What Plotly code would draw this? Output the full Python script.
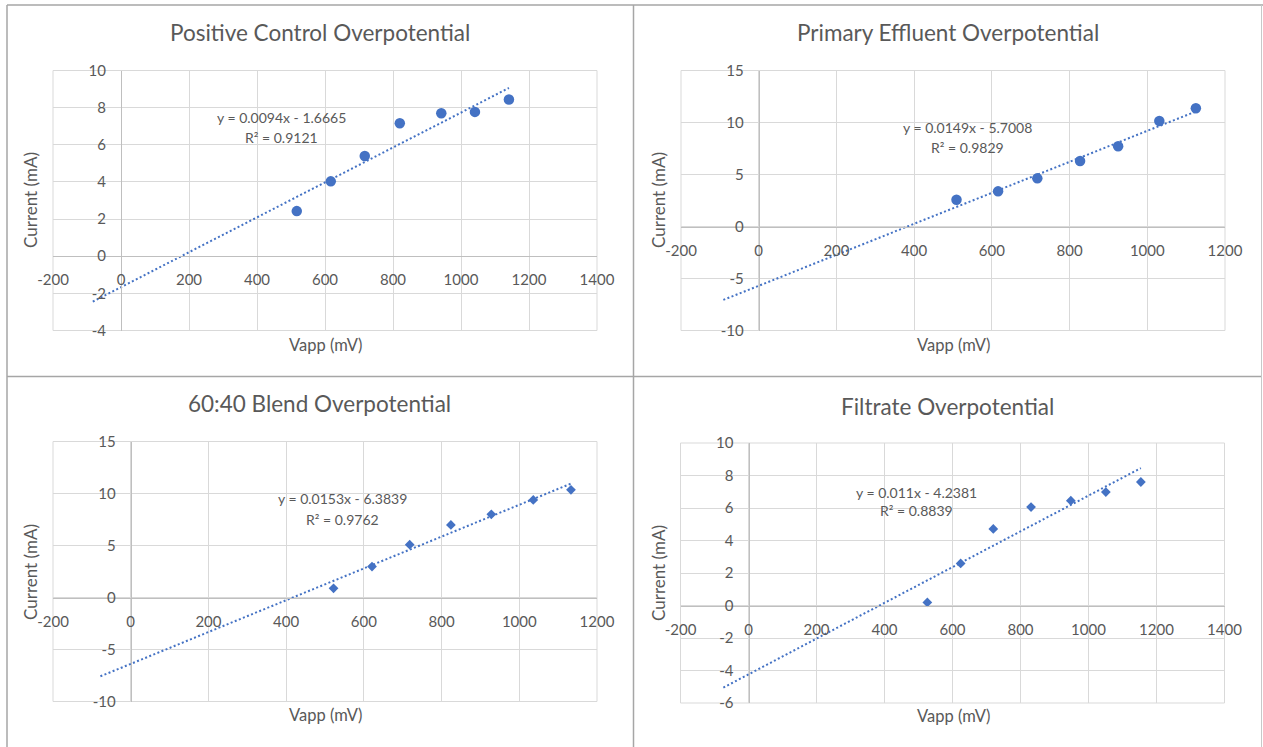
import numpy as np
import plotly.graph_objects as go

W, H = 1263, 747

# ---------------- data ----------------
titles = ["Positive Control Overpotential", "Primary Effluent Overpotential",
          "60:40 Blend Overpotential", "Filtrate Overpotential"]

pc_x = [517, 617, 717, 820, 942, 1041, 1141]
pc_y = [2.43, 4.03, 5.40, 7.16, 7.70, 7.77, 8.44]

pe_x = [509, 616, 717, 827, 925, 1031, 1125]
pe_y = [2.58, 3.38, 4.63, 6.30, 7.72, 10.15, 11.37]

bl_x = [522, 621, 718, 824, 928, 1036, 1133]
bl_y = [0.88, 2.97, 5.08, 6.98, 8.00, 9.38, 10.35]

fi_x = [526, 624, 720, 831, 948, 1051, 1154]
fi_y = [0.19, 2.59, 4.71, 6.06, 6.45, 6.98, 7.60]

slopes = [0.0094, 0.0149, 0.0153, 0.011]
intercepts = [-1.6665, -5.7008, -6.3839, -4.2381]
eq_labels = ["y = 0.0094x - 1.6665", "y = 0.0149x - 5.7008",
             "y = 0.0153x - 6.3839", "y = 0.011x - 4.2381"]
r2_labels = ["R² = 0.9121", "R² = 0.9829", "R² = 0.9762", "R² = 0.8839"]
backward_forecast = 600

x_ranges = [[-200, 1400], [-200, 1200], [-200, 1200], [-200, 1400]]
y_ranges = [[-4, 10], [-10, 15], [-10, 15], [-6, 10]]
x_dticks = [200, 200, 200, 200]
y_dticks = [2, 5, 5, 2]

xs = [pc_x, pe_x, bl_x, fi_x]
ys = [pc_y, pe_y, bl_y, fi_y]

# ---------------- style / layout ----------------
symbols = ["circle", "circle", "diamond", "diamond"]
msizes = [10.5, 10.5, 7.5, 7.5]
BLUE = "#4472C4"
TXT = "#595959"
GRID = "#D9D9D9"
AXL = "#BFBFBF"
FONT = "Lato"

# plot-area boxes in pixels: left, right, top, bottom
boxes = [(53, 597, 70.5, 330.5), (681, 1225, 70.5, 330.5),
         (53, 597, 441.5, 701.5), (680.5, 1224.5, 443, 703)]
title_pos = [(320, 33), (948, 33), (320, 404), (948, 406)]
xtitle_pos = [(325, 345), (953, 345), (325, 715), (953, 716)]
ytitle_pos = [(30, 200), (658, 200), (30, 572), (658, 573)]
eq_pos = [(281, 118, 138), (967, 127, 147), (342, 498, 519), (916, 492, 511)]

fig = go.Figure()
layout = dict(width=W, height=H, margin=dict(l=0, r=0, t=0, b=0),
              paper_bgcolor="white", plot_bgcolor="white", showlegend=False,
              font=dict(family=FONT, color=TXT))
annotations = []
shapes = []


def fx(px):
    return px / W


def fy(py):
    return 1 - py / H


def ticks_for(rng, step):
    vals = list(range(int(rng[0]), int(rng[1]) + 1, int(step)))
    return vals, [str(v) for v in vals]   # plain hyphen minus, as Excel shows


for i in range(4):
    sfx = "" if i == 0 else str(i + 1)
    xr, yr = x_ranges[i], y_ranges[i]
    l, r, t, b = boxes[i]
    xd = [fx(l), fx(r)]
    yd = [fy(b), fy(t)]
    xpos = yd[0] + (0 - yr[0]) / (yr[1] - yr[0]) * (yd[1] - yd[0])
    ypos = xd[0] + (0 - xr[0]) / (xr[1] - xr[0]) * (xd[1] - xd[0])
    xtv, xtt = ticks_for(xr, x_dticks[i])
    ytv, ytt = ticks_for(yr, y_dticks[i])

    layout["xaxis" + sfx] = dict(
        domain=xd, range=xr, tickmode="array", tickvals=xtv, ticktext=xtt,
        anchor="free", position=xpos, showgrid=True, gridcolor=GRID, gridwidth=1,
        zeroline=False, showline=True, linecolor=AXL, linewidth=1,
        ticks="", ticklabelstandoff=10, automargin=False,
        tickfont=dict(family=FONT, size=15, color=TXT))
    layout["yaxis" + sfx] = dict(
        domain=yd, range=yr, tickmode="array", tickvals=ytv, ticktext=ytt,
        anchor="free", position=ypos, showgrid=True, gridcolor=GRID, gridwidth=1,
        zeroline=False, showline=True, linecolor=AXL, linewidth=1,
        ticks="", ticklabelstandoff=12, automargin=False,
        tickfont=dict(family=FONT, size=15, color=TXT))

    xa = "x" + sfx
    ya = "y" + sfx

    # trendline (Excel linear trendline, forecast backward)
    tx = np.array([min(xs[i]) - backward_forecast, max(xs[i])], dtype=float)
    ty = slopes[i] * tx + intercepts[i]
    fig.add_trace(go.Scatter(x=tx, y=ty, mode="lines", xaxis=xa, yaxis=ya,
                             line=dict(color=BLUE, width=2, dash="2px,2.4px"),
                             hoverinfo="skip"))
    # data points
    fig.add_trace(go.Scatter(x=xs[i], y=ys[i], mode="markers", xaxis=xa, yaxis=ya,
                             marker=dict(symbol=symbols[i], size=msizes[i], color=BLUE,
                                         line=dict(width=0))))

    # plot-area border
    shapes.append(dict(type="rect", xref=xa + " domain", yref=ya + " domain",
                       x0=0, x1=1, y0=0, y1=1, line=dict(color=GRID, width=1),
                       layer="below"))

    # texts
    annotations.append(dict(text=titles[i], xref="paper", yref="paper",
                            x=fx(title_pos[i][0]), y=fy(title_pos[i][1]),
                            xanchor="center", yanchor="middle", showarrow=False,
                            font=dict(family=FONT, size=22.5, color=TXT)))
    annotations.append(dict(text="Vapp (mV)", xref="paper", yref="paper",
                            x=fx(xtitle_pos[i][0]), y=fy(xtitle_pos[i][1]),
                            xanchor="center", yanchor="middle", showarrow=False,
                            font=dict(family=FONT, size=16.5, color=TXT)))
    annotations.append(dict(text="Current (mA)", xref="paper", yref="paper",
                            x=fx(ytitle_pos[i][0]), y=fy(ytitle_pos[i][1]),
                            xanchor="center", yanchor="middle", showarrow=False,
                            textangle=-90,
                            font=dict(family=FONT, size=17, color=TXT)))
    ex, ey1, ey2 = eq_pos[i]
    annotations.append(dict(text=eq_labels[i], xref="paper", yref="paper",
                            x=fx(ex), y=fy(ey1), xanchor="center", yanchor="middle",
                            showarrow=False, font=dict(family=FONT, size=14, color=TXT)))
    annotations.append(dict(text=r2_labels[i], xref="paper", yref="paper",
                            x=fx(ex), y=fy(ey2), xanchor="center", yanchor="middle",
                            showarrow=False, font=dict(family=FONT, size=14, color=TXT)))

# panel separators / borders (screenshot frame)
SEP = "#A6A6A6"
shapes += [
    dict(type="line", xref="paper", yref="paper", x0=fx(633.5), x1=fx(633.5),
         y0=fy(5), y1=0, line=dict(color=SEP, width=1.5)),
    dict(type="line", xref="paper", yref="paper", x0=fx(7), x1=fx(1261),
         y0=fy(376.5), y1=fy(376.5), line=dict(color=SEP, width=1.5)),
    dict(type="line", xref="paper", yref="paper", x0=fx(7), x1=fx(7),
         y0=fy(5), y1=0, line=dict(color=SEP, width=1.5)),
    dict(type="line", xref="paper", yref="paper", x0=fx(7), x1=1,
         y0=fy(5), y1=fy(5), line=dict(color=SEP, width=1.5)),
    dict(type="line", xref="paper", yref="paper", x0=fx(1261.5), x1=fx(1261.5),
         y0=fy(5), y1=0, line=dict(color="#C8C8C8", width=1)),
]

layout["annotations"] = annotations
layout["shapes"] = shapes
fig.update_layout(**layout)

fig.write_html("out.html",
               post_script="document.body.style.margin='0px';"
                           "document.body.style.overflow='hidden';")
